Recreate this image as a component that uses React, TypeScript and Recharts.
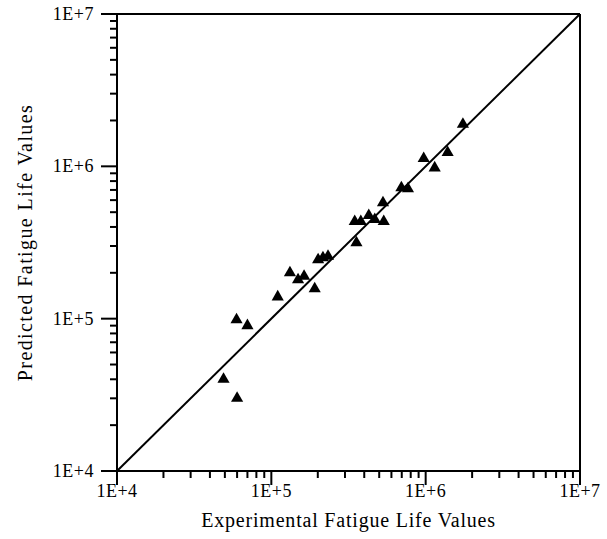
import {
  ReferenceLine,
  Scatter,
  ScatterChart,
  XAxis,
  YAxis,
  ZAxis,
} from "recharts";

const experimentalLife = [
  49000, 60000, 59500, 70000, 110000, 132000, 149000, 163000, 191000, 201000,
  216000, 233000, 356000, 347000, 380000, 428000, 468000, 535000, 529000,
  696000, 768000, 971000, 1144000, 1388000, 1743000,
];
const predictedLife = [
  40000, 30000, 98500, 90000, 139000, 200000, 180000, 190000, 157000, 244000,
  251000, 257000, 315000, 435000, 435000, 476000, 448000, 435000, 577000,
  724000, 713000, 1124000, 977000, 1231000, 1889000,
];

const MAJOR_TICKS = [1e4, 1e5, 1e6, 1e7];
const MINOR_STEPS = [2, 3, 4, 5, 6, 7, 8, 9];
const MAJOR_LABELS = ["1E+4", "1E+5", "1E+6", "1E+7"];

const allTicks = [
  ...MAJOR_TICKS,
  ...MAJOR_TICKS.slice(0, 3).flatMap((d) => MINOR_STEPS.map((m) => m * d)),
].sort((a, b) => a - b);

const points = experimentalLife.map((x, i) => ({ x, y: predictedLife[i] }));

const FONT = '"Liberation Serif", "Times New Roman", serif';
const INK = "#000";

function tickLabel(v: number) {
  const i = MAJOR_TICKS.indexOf(v);
  return i >= 0 ? MAJOR_LABELS[i] : null;
}

function XTick(props: any) {
  const { x, y, payload } = props;
  const label = tickLabel(payload.value);
  return (
    <g>
      <line x1={x} x2={x} y1={y} y2={y + (label ? 14 : 7)} stroke={INK} strokeWidth={2} />
      {label && (
        <text x={x} y={y + 26} textAnchor="middle" fontFamily={FONT} fontSize={18} letterSpacing={0.5} fill={INK}>
          {label}
        </text>
      )}
    </g>
  );
}

function YTick(props: any) {
  const { x, y, payload } = props;
  const label = tickLabel(payload.value);
  return (
    <g>
      <line x1={x} x2={x - (label ? 16 : 7)} y1={y} y2={y} stroke={INK} strokeWidth={2} />
      {label && (
        <text x={x - 23} y={y + 6} textAnchor="end" fontFamily={FONT} fontSize={18} letterSpacing={0.5} fill={INK}>
          {label}
        </text>
      )}
    </g>
  );
}

export default function App() {
  return (
    <div style={{ position: "absolute", left: 0, top: 0, background: "#fff" }}>
      <ScatterChart width={607} height={539} margin={{ top: 14, right: 27, bottom: 0, left: 0 }}>
        <XAxis
          type="number"
          dataKey="x"
          scale="log"
          domain={[1e4, 1e7]}
          allowDataOverflow
          ticks={allTicks}
          interval={0}
          tickSize={0}
          tickMargin={0}
          tick={<XTick />}
          axisLine={{ stroke: INK, strokeWidth: 2 }}
          height={68}
          label={{
            content: ({ viewBox }: any) => (
              <text
                x={viewBox.x + viewBox.width / 2}
                y={viewBox.y + 56}
                textAnchor="middle"
                fontFamily={FONT}
                fontSize={20}
                letterSpacing={0.8}
                fill={INK}
              >
                Experimental Fatigue Life Values
              </text>
            ),
          }}
        />
        <YAxis
          type="number"
          dataKey="y"
          scale="log"
          domain={[1e4, 1e7]}
          allowDataOverflow
          ticks={allTicks}
          interval={0}
          tickSize={0}
          tickMargin={0}
          tick={<YTick />}
          axisLine={{ stroke: INK, strokeWidth: 2 }}
          width={117}
          label={{
            content: ({ viewBox }: any) => {
              const cx = viewBox.x + 25;
              const cy = viewBox.y + viewBox.height / 2;
              return (
                <text
                  x={cx}
                  y={cy}
                  textAnchor="middle"
                  dominantBaseline="central"
                  transform={`rotate(-90 ${cx} ${cy})`}
                  fontFamily={FONT}
                  fontSize={20}
                  letterSpacing={1.4}
                  fill={INK}
                >
                  Predicted Fatigue Life Values
                </text>
              );
            },
          }}
        />
        <ZAxis range={[85, 85]} />
        <ReferenceLine y={1e7} stroke={INK} strokeWidth={2} />
        <ReferenceLine x={1e7} stroke={INK} strokeWidth={2} />
        <ReferenceLine
          segment={[
            { x: 1e4, y: 1e4 },
            { x: 1e7, y: 1e7 },
          ]}
          stroke={INK}
          strokeWidth={2}
        />
        <Scatter data={points} shape="triangle" fill={INK} isAnimationActive={false} />
      </ScatterChart>
    </div>
  );
}
